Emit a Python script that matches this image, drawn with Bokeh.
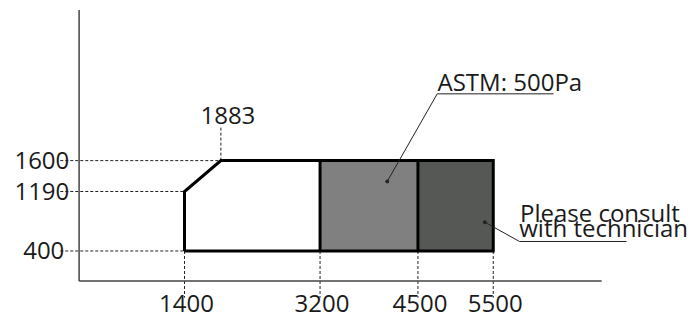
from bokeh.plotting import figure
from bokeh.embed import file_html
from bokeh.resources import INLINE
from bokeh.core.properties import value

# ---- data ----
x_ticks = [1400, 3200, 4500, 5500]
y_ticks = [400, 1190, 1600]
chamfer_x = 1883
x_tick_labels = ["1400", "3200", "4500", "5500"]
y_tick_labels = ["400", "1190", "1600"]
chamfer_label = "1883"

# base (white) zone outline
base_x = [1400, 1400, 1883, 3200, 3200]
base_y = [400, 1190, 1600, 1600, 400]

# shaded zones
zone_left = [3200, 4500]
zone_right = [4500, 5500]
zone_bottom = [400, 400]
zone_top = [1600, 1600]
zone_colors = ["#808080", "#565856"]

annot_astm = "ASTM: 500Pa"
annot_consult = ["Please consult", "with technician"]

# axis extents
x_axis_max = 6940
y_axis_max = 3600

# ---- layout ----
W, H = 697, 319
OFF = 0
s = 0.0753  # px per unit
x0 = (OFF - 78.6) / s
x1 = (OFF + W - 78.6) / s
ytop = (280.6 - OFF) / s
ybot = (280.6 - OFF - H) / s

p = figure(width=W, height=H, x_range=(x0, x1), y_range=(ybot, ytop),
           output_backend="svg", toolbar_location=None, min_border=0,
           outline_line_color=None)
p.axis.visible = False
p.grid.visible = False
p.background_fill_color = "white"
p.border_fill_color = "white"

FONT = value("Open Sans")
FS = "24px"
TXT = "#1a1a1a"
DASH = "3 2"

# dashed guides
hx_end = [x_ticks[0], x_ticks[0], chamfer_x]
p.segment(x0=[-250] * 3, y0=y_ticks, x1=hx_end, y1=y_ticks,
          line_color="#222222", line_width=1, line_dash=DASH)
p.segment(x0=x_ticks, y0=[y_ticks[0]] * 4, x1=x_ticks, y1=[-220] * 4,
          line_color="#222222", line_width=1, line_dash=DASH)
p.segment(x0=[chamfer_x], y0=[y_ticks[2]], x1=[chamfer_x], y1=[2044],
          line_color="#222222", line_width=1, line_dash=DASH)

# axes
p.line([0, 0], [0, y_axis_max], line_color="#444444", line_width=1.5)
p.line([0, x_axis_max], [0, 0], line_color="#444444", line_width=1.5)

# zones
p.patch(base_x, base_y, fill_color="white", line_color=None)
p.quad(left=zone_left, right=zone_right, bottom=zone_bottom, top=zone_top,
       fill_color=zone_colors, line_color=None)
# outline
outline_x = [1400, 1400, 1883, 5500, 5500, 1400]
outline_y = [400, 1190, 1600, 1600, 400, 400]
p.line(outline_x, outline_y, line_color="black", line_width=3, line_join="miter")
p.segment(x0=[3200, 4500], y0=[400, 400], x1=[3200, 4500], y1=[1600, 1600],
          line_color="black", line_width=3)

# tick labels
p.text(x=x_ticks, y=[-304] * 4, text=x_tick_labels, text_align="center",
       text_baseline="middle", text_font=FONT, text_font_size=FS,
       text_color=TXT, x_offset=2)
p.text(x=[-196, -130, -130], y=y_ticks, text=y_tick_labels, text_align="right",
       text_baseline="middle", text_font=FONT, text_font_size=FS,
       text_color=TXT)
p.text(x=[chamfer_x], y=[2199], text=[chamfer_label], text_align="center",
       text_baseline="middle", text_font=FONT, text_font_size=FS,
       text_color=TXT, x_offset=7)

# ASTM annotation
p.line([4092, 4756, 6300], [1323, 2487, 2487], line_color="#222222", line_width=1)
p.scatter([4092], [1323], size=3, color="#222222")
p.text(x=[4760], y=[2645], text=[annot_astm], text_align="left",
       text_baseline="middle", text_font=FONT, text_font_size=FS,
       text_color=TXT)

# consult annotation
p.line([5388, 5849, 7270], [782, 526, 526], line_color="#222222", line_width=1)
p.scatter([5388], [782], size=3, color="#222222")
p.text(x=[5855, 5845], y=[906, 716], text=annot_consult, text_align="left",
       text_baseline="middle", text_font=FONT, text_font_size=FS,
       text_color=TXT)

open("out.html", "w").write(file_html(p, INLINE))
